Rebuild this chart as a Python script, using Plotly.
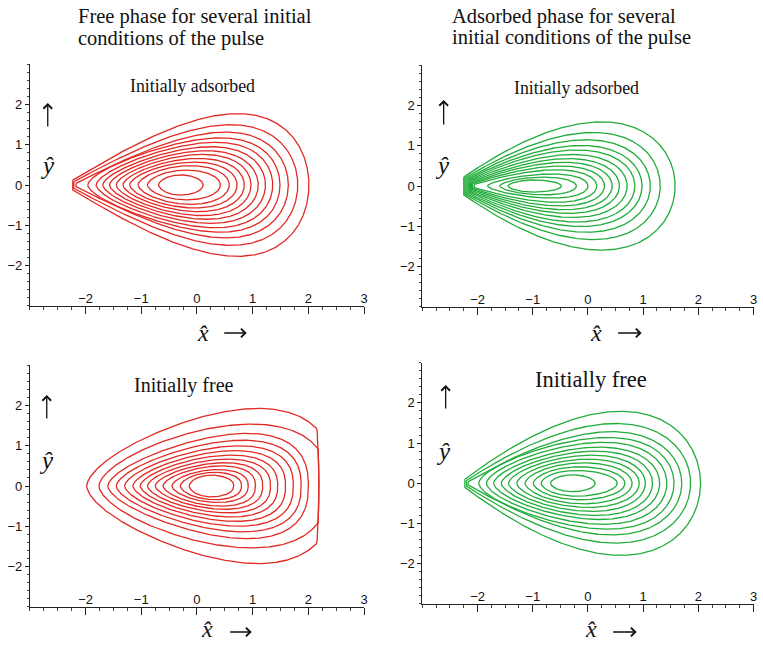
import numpy as np
import plotly.graph_objects as go

# ---------------- data ----------------
# each closed curve: left end (y=0), right end (y=0), max height, x of max height,
# half-height of the small vertical bar at the left pinch (0 = no pinch)
TL_xl = [-2.23, -2.21, -2.17, -1.96, -1.81, -1.69, -1.57, -1.45, -1.33, -1.21, -1.06, -0.89, -0.69]
TL_xr = [2.01, 1.81, 1.64, 1.49, 1.36, 1.23, 1.10, 0.97, 0.85, 0.72, 0.58, 0.42, 0.11]
TL_ytop = [1.76, 1.49, 1.31, 1.17, 1.06, 0.95, 0.85, 0.76, 0.66, 0.57, 0.48, 0.37, 0.25]
TL_xtop = [0.75, 0.62, 0.52, 0.42, 0.33, 0.25, 0.17, 0.10, 0.03, -0.04, -0.11, -0.18, -0.29]
TL_bar = [0.12, 0.08, 0.04, 0, 0, 0, 0, 0, 0, 0, 0, 0, 0]

TR_xl = [-2.25, -2.23, -2.21, -2.19, -2.17, -2.15, -2.13, -2.11, -2.09, -2.06, -1.82, -1.60, -1.45]
TR_xr = [1.58, 1.31, 1.13, 0.98, 0.85, 0.71, 0.57, 0.44, 0.30, 0.16, 0.00, -0.21, -0.48]
TR_ytop = [1.57, 1.31, 1.13, 0.99, 0.88, 0.77, 0.67, 0.58, 0.49, 0.40, 0.30, 0.22, 0.15]
TR_xtop = [0.30, 0.15, 0.03, -0.07, -0.15, -0.23, -0.31, -0.39, -0.47, -0.55, -0.65, -0.80, -0.97]
TR_bar = [0.22, 0.20, 0.18, 0.16, 0.14, 0.12, 0.10, 0.08, 0.06, 0.04, 0, 0, 0]

# bottom-left: right side is cut by a near-vertical wall at x = BL_wall
BL_xl = [-1.98, -1.76, -1.60, -1.45, -1.30, -1.15, -1.02, -0.89, -0.75, -0.61, -0.45, -0.30, -0.14]
BL_xr = [2.47, 2.35, 2.00, 1.87, 1.73, 1.59, 1.45, 1.32, 1.18, 1.05, 0.92, 0.80, 0.66]
BL_ytop = [1.93, 1.54, 1.31, 1.14, 1.00, 0.88, 0.77, 0.67, 0.58, 0.50, 0.41, 0.34, 0.27]
BL_xtop = [1.10, 0.98, 0.90, 0.83, 0.76, 0.69, 0.62, 0.56, 0.50, 0.44, 0.38, 0.32, 0.26]
BL_bar = [0] * 13
BL_wall = 2.15
BL_wall_mid = 2.19

BR_xl = [-2.23, -2.20, -2.17, -1.98, -1.84, -1.71, -1.57, -1.44, -1.29, -1.14, -0.99, -0.85, -0.68]
BR_xr = [2.04, 1.86, 1.70, 1.56, 1.43, 1.30, 1.17, 1.04, 0.93, 0.80, 0.67, 0.53, 0.13]
BR_ytop = [1.78, 1.48, 1.28, 1.14, 1.02, 0.90, 0.80, 0.70, 0.60, 0.51, 0.41, 0.32, 0.21]
BR_xtop = [0.62, 0.52, 0.44, 0.36, 0.28, 0.21, 0.14, 0.07, 0.00, -0.07, -0.14, -0.20, -0.28]
BR_bar = [0.10, 0.07, 0.04, 0, 0, 0, 0, 0, 0, 0, 0, 0, 0]

X_TICKS = [-2, -1, 0, 1, 2, 3]
X_TICKTEXT = ["\u22122", "\u22121", "0", "1", "2", "3"]
Y_TICKS = [-2, -1, 0, 1, 2]
Y_TICKTEXT = ["\u22122", "\u22121", "0", "1", "2"]

RED = "rgb(226,42,36)"
GREEN = "rgb(34,172,58)"
W, H = 763, 647


def curve(xl, xr, hgt, xt, bar, q, wall=None):
    """closed egg-shaped contour through the read extents"""
    L = xr - xl
    u0 = min(max((xt - xl) / L, 0.3), 0.88)
    p = 1.0 if bar > 0 else 0.6
    k = q / (1 - u0) - p / u0
    s = np.linspace(0, np.pi, 300)
    u = (1 - np.cos(s)) / 2
    g = u ** p * (1 - u) ** q * np.exp(k * u)
    g0 = u0 ** p * (1 - u0) ** q * np.exp(k * u0)
    x = xl + L * u
    y = hgt * g / g0 + bar * (1 - u) ** 2
    if wall is not None:
        wx = wall[0] + (wall[1] - wall[0]) * np.clip(1 - (y / 1.5) ** 2, 0, 1)
        x = np.minimum(x, wx)
    X = np.concatenate([x, x[::-1], x[:1]])
    Y = np.concatenate([y, -y[::-1], y[:1]])
    return X, Y


panels = [
    (TL_xl, TL_xr, TL_ytop, TL_xtop, TL_bar, 0.5, None, RED, "x", "y"),
    (TR_xl, TR_xr, TR_ytop, TR_xtop, TR_bar, 0.5, None, GREEN, "x2", "y2"),
    (BL_xl, BL_xr, BL_ytop, BL_xtop, BL_bar, 0.4, (BL_wall, BL_wall_mid), RED, "x3", "y3"),
    (BR_xl, BR_xr, BR_ytop, BR_xtop, BR_bar, 0.5, None, GREEN, "x4", "y4"),
]

fig = go.Figure()
for xl_, xr_, yt_, xt_, bar_, q, wall, col, xa, ya in panels:
    for a, b, c, d, e in zip(xl_, xr_, yt_, xt_, bar_):
        X, Y = curve(a, b, c, d, e, q, wall)
        fig.add_trace(go.Scatter(x=X, y=Y, mode="lines", xaxis=xa, yaxis=ya,
                                 line=dict(color=col, width=1.3), hoverinfo="skip",
                                 showlegend=False))

# pixel boxes of the four plot areas: (left, right, top, bottom)
boxes = [(30, 366, 64.1, 305.9), (424.6, 757.5, 65.4, 306.6),
         (30, 366, 365.4, 606.6), (424.6, 757.5, 362.7, 603.9)]

tickfont = dict(family="Liberation Sans", size=13, color="#111")
layout = dict(width=W, height=H, margin=dict(l=0, r=0, t=0, b=0),
              paper_bgcolor="white", plot_bgcolor="white", showlegend=False)
for i, (l, r, t, b) in enumerate(boxes):
    sfx = "" if i == 0 else str(i + 1)
    layout["xaxis" + sfx] = dict(
        domain=[l / W, r / W], range=[-3, 3], anchor="y" + sfx,
        showline=True, linecolor="#222", linewidth=1, showgrid=False, zeroline=False,
        tickmode="array", tickvals=X_TICKS, ticktext=X_TICKTEXT,
        ticks="outside", ticklen=7, tickwidth=1, tickcolor="#222",
        ticklabelposition="inside", ticklabeloverflow="allow", tickfont=tickfont,
        minor=dict(tickmode="linear", tick0=0, dtick=0.25, ticks="outside",
                   ticklen=3, tickcolor="#444", showgrid=False),
        fixedrange=True)
    layout["yaxis" + sfx] = dict(
        domain=[1 - b / H, 1 - t / H], range=[-3, 3], anchor="x" + sfx,
        showline=True, linecolor="#222", linewidth=1, showgrid=False, zeroline=False,
        tickmode="array", tickvals=Y_TICKS, ticktext=Y_TICKTEXT,
        ticks="outside", ticklen=4, tickwidth=1, tickcolor="#222", tickfont=tickfont,
        minor=dict(tickmode="linear", tick0=0, dtick=0.2, ticks="outside",
                   ticklen=2, tickcolor="#444", showgrid=False),
        fixedrange=True)
fig.update_layout(**layout)


def ann(text, px, py, size, xanchor="center", italic=False, family="Liberation Serif"):
    if italic:
        text = "<i>" + text + "</i>"
    fig.add_annotation(text=text, x=px / W, y=1 - py / H, xref="paper", yref="paper",
                       xanchor=xanchor, yanchor="middle", showarrow=False,
                       font=dict(family=family, size=size, color="#111"))


def arrow(hx, hy, tx, ty):
    fig.add_annotation(text="", x=hx / W, y=1 - hy / H, xref="paper", yref="paper",
                       ax=tx - hx, ay=ty - hy, axref="pixel", ayref="pixel",
                       showarrow=True, arrowhead=4, arrowsize=1.3, arrowwidth=1.3,
                       arrowcolor="#111", standoff=0, startstandoff=0)


# titles
ann("Free phase for several initial", 76, 16, 20.5, "left")
ann("conditions of the pulse", 76, 39, 20.5, "left")
ann("Adsorbed phase for several", 452, 16, 20.5, "left")
ann("initial conditions of the pulse", 452, 38, 20.5, "left")
# panel labels
ann("Initially adsorbed", 194, 86, 17.8)
ann("Initially adsorbed", 580, 88, 17.8)
ann("Initially free", 185, 385, 20)
ann("Initially free", 594, 379, 22.5)
# y labels and up arrows
for (px, py) in [(48, 165), (445, 165), (47, 460), (446, 452)]:
    ann("\u0177", px, py, 25, italic=True)
for (x0, y_top, y_bot) in [(48, 103, 128), (446, 100, 126), (47, 395, 420), (448, 385, 410)]:
    arrow(x0, y_top, x0, y_bot)
# x labels and right arrows
for (px, py) in [(204, 333), (599, 333), (208, 629), (594, 629)]:
    ann("x\u0302", px, py, 24, italic=True)
for (x_l, x_r, y0) in [(224, 248, 333), (620, 645, 333), (230, 253, 632), (615, 640, 632)]:
    arrow(x_r, y0, x_l, y0)

fig.write_html("out.html", config={"displayModeBar": False},
               post_script="document.body.style.margin='0';document.body.style.overflow='hidden';")
